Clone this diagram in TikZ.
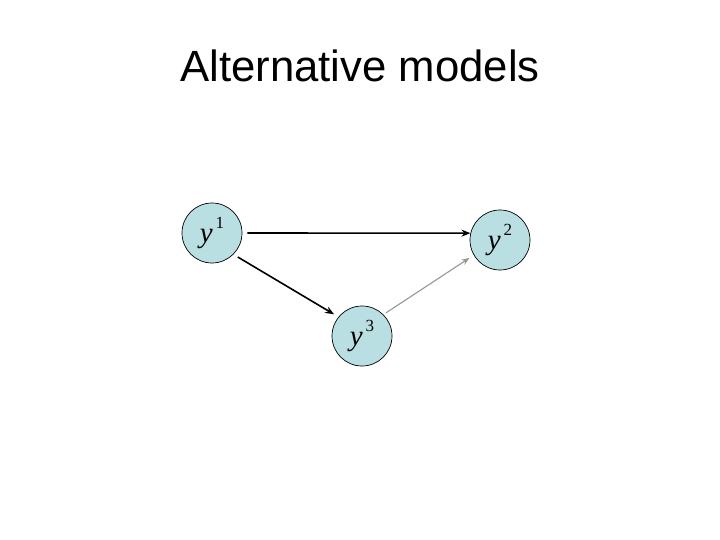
\documentclass[tikz,border=0pt]{standalone}
\usepackage{fontspec}
\setmainfont{Liberation Serif}
\newfontfamily\titlefont{Liberation Sans}
\usetikzlibrary{arrows.meta}
\definecolor{nodefill}{RGB}{186,223,227}
\definecolor{grayarrow}{RGB}{150,150,150}
\tikzset{
  var/.style={circle, draw=black, line width=0.7pt, fill=nodefill, minimum size=60pt, inner sep=0pt},
  blackarrow/.style={draw=black, line width=1.6pt, -{Stealth[length=9pt,width=7pt]}},
  lightarrow/.style={draw=grayarrow, line width=1.1pt, -{Stealth[length=8pt,width=6pt]}},
}
\newcommand{\varlabel}[1]{{\fontsize{29}{29}\selectfont\textit{y}\raisebox{0.5em}{\fontsize{17}{17}\selectfont\,#1}}}
\begin{document}
\begin{tikzpicture}[x=1pt,y=-1pt]
\useasboundingbox (0,0) rectangle (720,540);
\node[anchor=base, font=\titlefont\fontsize{43.7}{44}\selectfont] (title) at (360,82) {Alternative models};
\node[var] (y1) at (212,233) {\varlabel{1}};
\node[var] (y2) at (500,240) {\varlabel{2}};
\node[var] (y3) at (362,336) {\varlabel{3}};
\draw[blackarrow, shorten <=5pt] (y1.0) -- (y2.167);
\draw[blackarrow, shorten <=5pt, shorten >=5pt] (y1.-45) -- (y3.141);
\draw[lightarrow, shorten <=3pt, shorten >=5pt] (y3.45) -- (y2.210);
\end{tikzpicture}
\end{document}
